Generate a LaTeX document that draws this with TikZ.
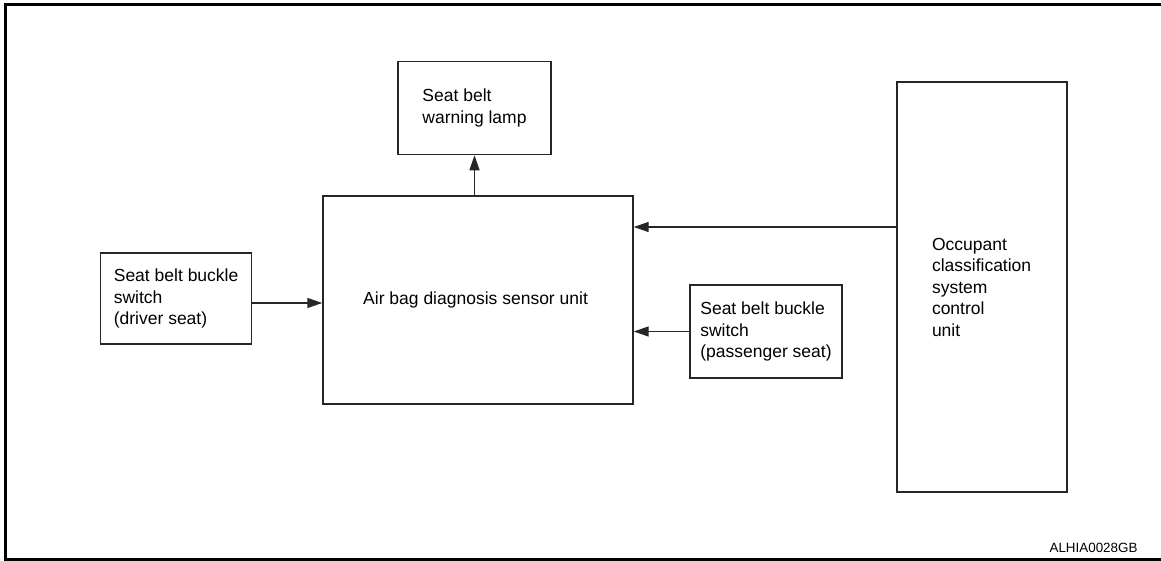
\documentclass[tikz,border=0pt]{standalone}
\usepackage{fontspec}
\setmainfont{Liberation Sans}
\usetikzlibrary{positioning}
\usetikzlibrary{arrows.meta}
\tikzset{
	diag box/.style={
		draw=black!85, line width=1.4pt,
		inner sep=0pt, align=left,
		font=\fontsize{17.5}{21.5}\selectfont
	},
	diag arrow/.style={
		draw=black!85, line width=1.4pt,
		-{Triangle[length=15pt,width=10pt]}
	},
	diag frame/.style={
		line width=3pt
	}
}

\begin{document}
\begin{tikzpicture}[x=1pt,y=-1pt,node distance=40pt]
	\useasboundingbox (0,0) rectangle (1161,561);
	\draw[diag frame] (1161,4.7) -- (5.5,4.7) -- (5.5,559.3) -- (1161,559.3);
	
	\node[diag box, minimum width=310pt, minimum height=208pt] (main) at (478,300) {%
		Air bag diagnosis sensor unit
	};
	
	\node[diag box, minimum width=153pt, minimum height=93pt, above=of main, xshift=-3.5pt] (lamp) {
		Seat belt\\warning lamp
	};
	\node[diag box, minimum width=151pt, minimum height=91pt, left=70pt of main, yshift=1.5pt] (driver) {
		Seat belt buckle\\switch\\(driver seat)
	};
	\node[diag box, minimum width=152pt, minimum height=93pt] (pass) at (766,331.5) {
		Seat belt buckle\\switch\\(passenger seat)
	};
	\node[diag box, minimum width=170pt, minimum height=410pt, text width=100pt] (ocs) at (982,287) {
		Occupant\\classification\\system\\control\\unit
	};
	
	% signal lines
	\draw[diag arrow] (main.north -| lamp.south) -- (lamp.south);
	\draw[diag arrow] ([yshift=-4.5pt]driver.east) -- ([yshift=-4.5pt]driver.east -| main.west);
	\draw[diag arrow] (pass.west) -- (pass.west -| main.east);
	\draw[diag arrow] ([yshift=60pt]ocs.west) -- ([yshift=60pt]ocs.west -| main.east);
	
	\node[font=\fontsize{13.4}{16}\selectfont, anchor=east] (code) at (1141,548) {ALHIA0028GB};
\end{tikzpicture}
\end{document}
